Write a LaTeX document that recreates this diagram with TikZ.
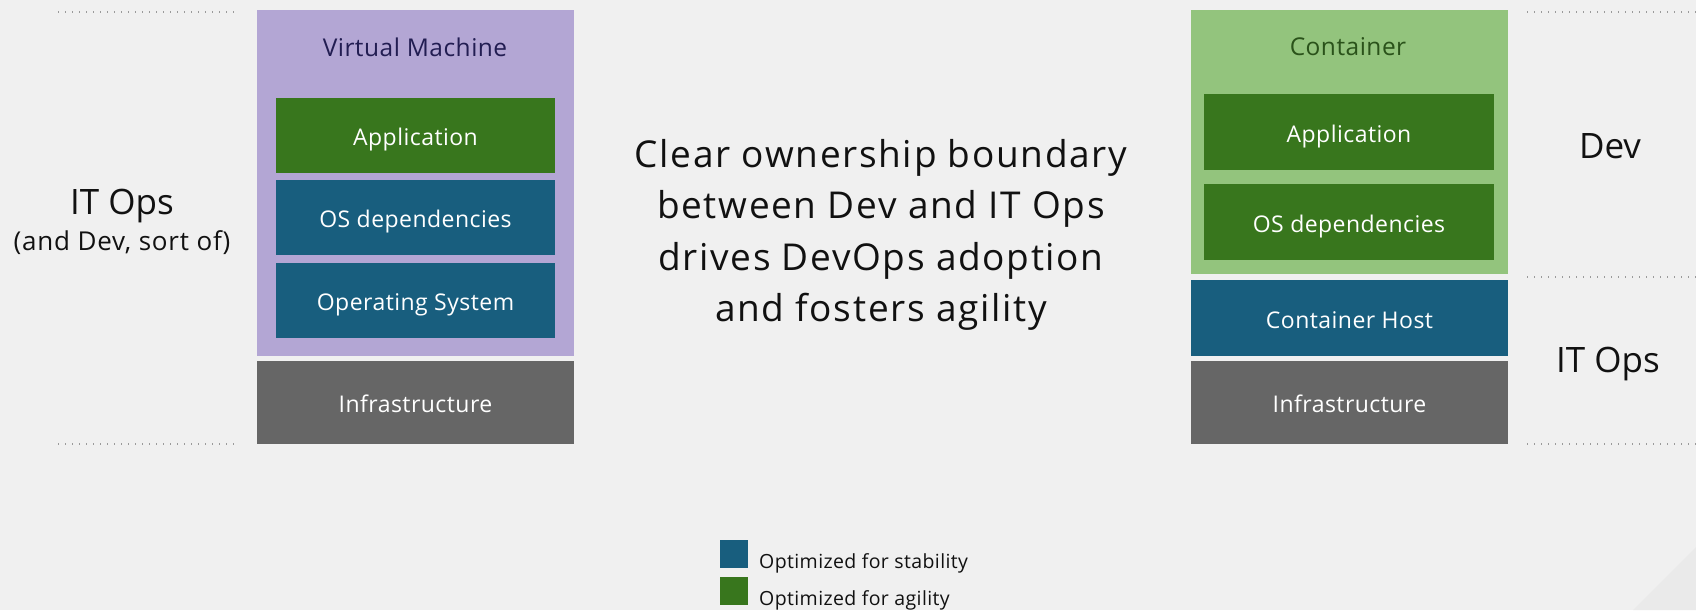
\documentclass[tikz,border=0pt]{standalone}
\usepackage{fontspec}
\setmainfont{Open Sans}
\definecolor{bgc}{HTML}{F0F0F0}
\definecolor{bgtri}{HTML}{EAEAEA}
\definecolor{lav}{HTML}{B3A6D4}
\definecolor{lgreen}{HTML}{93C47D}
\definecolor{dgreen}{HTML}{38761D}
\definecolor{dblue}{HTML}{185E7E}
\definecolor{gray6}{HTML}{666666}
\definecolor{vmtitle}{HTML}{221D52}
\definecolor{cttitle}{HTML}{2A521A}
\definecolor{dotc}{HTML}{9A9A9A}
\definecolor{txt}{HTML}{111111}
\tikzset{
  layer/.style={inner sep=0pt, outer sep=0pt, text=white, text height=20pt, text depth=0pt,
    font=\fontsize{23}{27}\selectfont\addfontfeature{LetterSpace=2}},
  boxtitle/.style={inner sep=0pt, font=\fontsize{24.5}{29}\selectfont\addfontfeature{LetterSpace=2}},
  dots/.style={dotc, line width=1.4pt, dash pattern=on 1.4pt off 5.6pt},
  biglabel/.style={text=txt, inner sep=0pt, text height=30pt, text depth=0pt, font=\fontsize{35}{40}\selectfont},
}
\begin{document}
\begin{tikzpicture}[x=1pt,y=-1pt]
\fill[bgc] (0,0) rectangle (1696,610);
\useasboundingbox (0,0) rectangle (1696,610);
\fill[bgtri] (1633,610) -- (1696,547) -- (1696,610) -- cycle;

% dotted guide lines
\coordinate (l1a) at (58,12); \coordinate (l1b) at (236,12);
\coordinate (l2a) at (58,444); \coordinate (l2b) at (236,444);
\coordinate (r1a) at (1527,12); \coordinate (r1b) at (1696,12);
\coordinate (r2a) at (1527,277); \coordinate (r2b) at (1696,277);
\coordinate (r3a) at (1527,444); \coordinate (r3b) at (1696,444);
\draw[dots] (l1a) -- (l1b);
\draw[dots] (l2a) -- (l2b);
\draw[dots] (r1a) -- (r1b);
\draw[dots] (r2a) -- (r2b);
\draw[dots] (r3a) -- (r3b);

% Virtual machine stack
\node[layer, fill=lav, minimum width=317, minimum height=346] (vm) at (415.5,183) {};
\node[boxtitle, text=vmtitle] (vmt) at (415,47) {Virtual Machine};
\node[layer, fill=dgreen, minimum width=279, minimum height=75] (vmapp) at (415.5,135.5) {Application};
\node[layer, fill=dblue, minimum width=279, minimum height=75] (vmdep) at (415.5,217.5) {OS dependencies};
\node[layer, fill=dblue, minimum width=279, minimum height=75] (vmos) at (415.5,300.5) {Operating System};
\node[layer, fill=gray6, minimum width=317, minimum height=83] (vminf) at (415.5,402.5) {Infrastructure};

% Container stack
\node[layer, fill=lgreen, minimum width=317, minimum height=264] (ct) at (1349.5,142) {};
\node[boxtitle, text=cttitle] (ctt) at (1348,47) {Container};
\node[layer, fill=dgreen, minimum width=290, minimum height=76] (ctapp) at (1349,132) {Application};
\node[layer, fill=dgreen, minimum width=290, minimum height=76] (ctdep) at (1349,222) {OS dependencies};
\node[layer, fill=dblue, minimum width=317, minimum height=76] (cthost) at (1349.5,318) {Container Host};
\node[layer, fill=gray6, minimum width=317, minimum height=83] (ctinf) at (1349.5,402.5) {Infrastructure};

% side labels
\node[biglabel] (itops1) at (122,199) {IT Ops};
\node[text=txt, inner sep=0pt, text height=21pt, text depth=0pt, font=\fontsize{26}{30}\selectfont\addfontfeature{LetterSpace=3}] (itops1b) at (122,239.5) {(and Dev, sort of)};
\node[biglabel] (dev) at (1610,143) {Dev};
\node[biglabel] (itops2) at (1608,357.5) {IT Ops};

% centre statement
\node[text=txt, align=center, inner sep=0pt, font=\fontsize{37}{51.5}\selectfont\addfontfeature{LetterSpace=4.5}] (stmt) at (881,235)
  {Clear ownership boundary\\between Dev and IT Ops\\drives DevOps adoption\\and fosters agility};

% legend
\node[fill=dblue, inner sep=0pt, minimum width=28, minimum height=28] (lgb) at (734,554) {};
\node[fill=dgreen, inner sep=0pt, minimum width=28, minimum height=28] (lgg) at (734,591) {};
\node[anchor=base west, text=txt, inner sep=0pt, font=\fontsize{19.5}{22}\selectfont\addfontfeature{LetterSpace=2}] (lgbt) at (759,568) {Optimized for stability};
\node[anchor=base west, text=txt, inner sep=0pt, font=\fontsize{19.5}{22}\selectfont\addfontfeature{LetterSpace=2}] (lggt) at (759,605) {Optimized for agility};
\end{tikzpicture}
\end{document}
